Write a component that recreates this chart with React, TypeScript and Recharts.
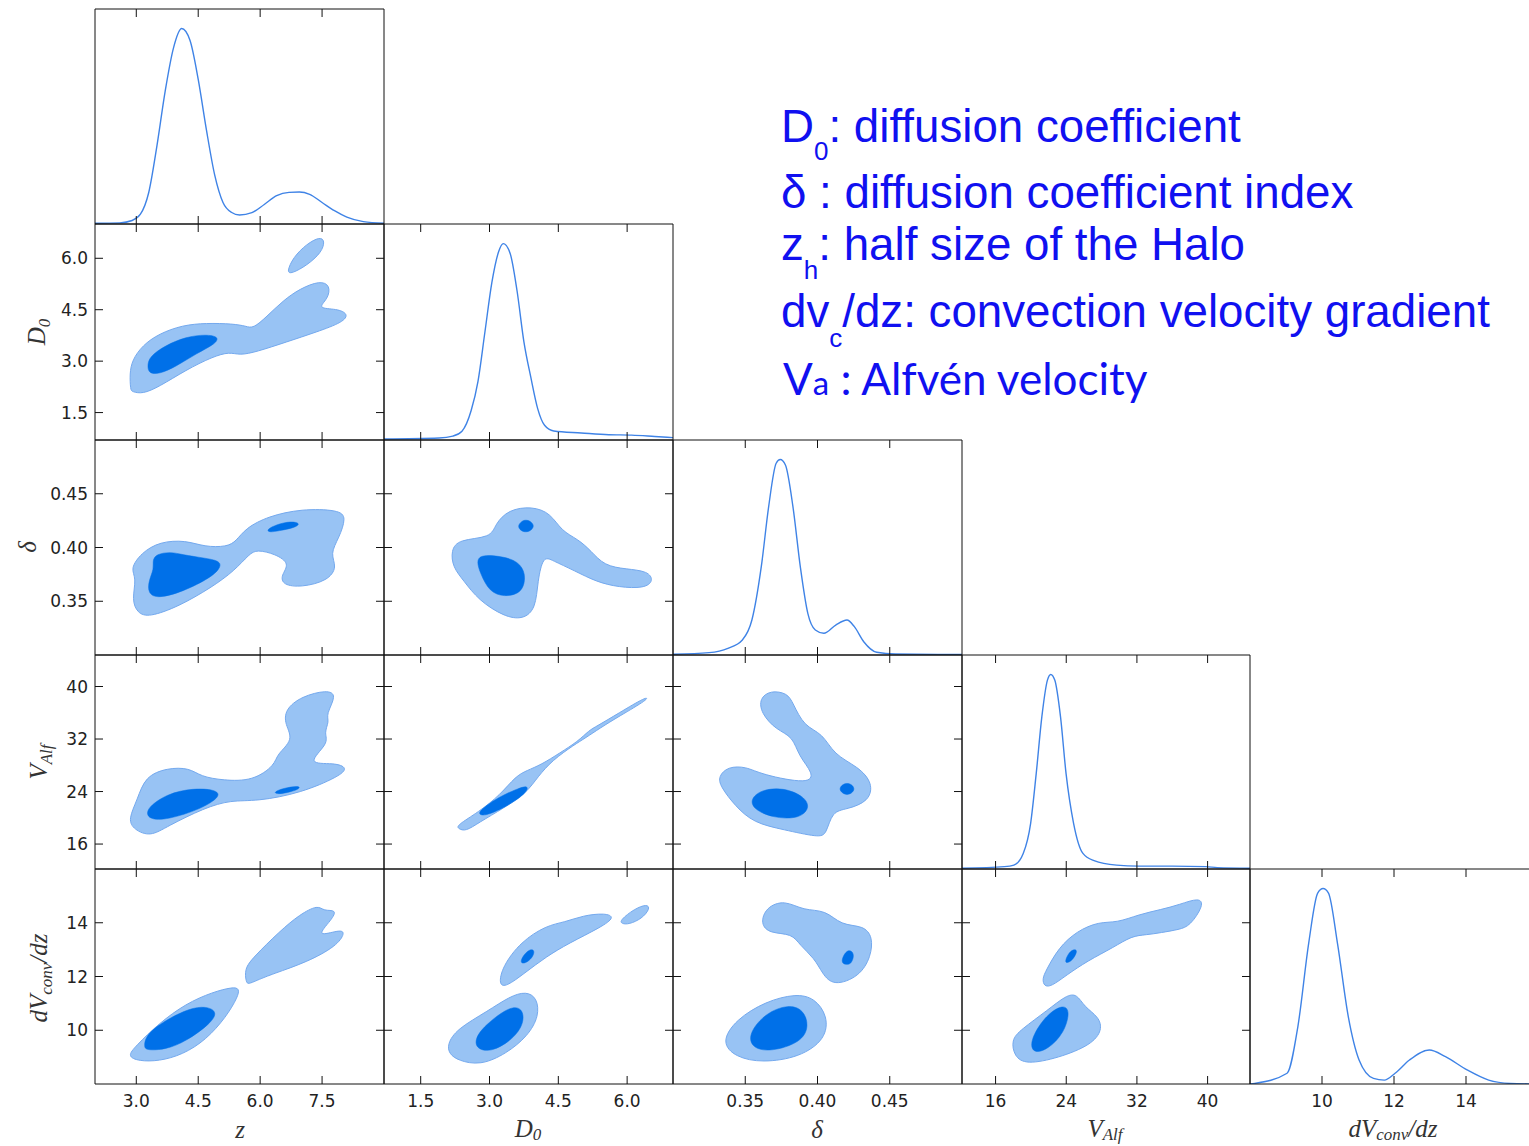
import React from 'react'
import { ScatterChart, Scatter, LineChart, Line, XAxis, YAxis } from 'recharts'

type Pt = [number, number]

// axis ticks and ranges, one per parameter: z, D0, delta, V_Alf, dV_conv/dz
const Z_TICKS = [3.0, 4.5, 6.0, 7.5]
const D0_TICKS = [1.5, 3.0, 4.5, 6.0]
const DELTA_TICKS = [0.35, 0.4, 0.45]
const VALF_TICKS = [16, 24, 32, 40]
const DV_TICKS = [10, 12, 14]

const Z_RANGE = [2, 9]
const D0_RANGE = [0.7, 7.0]
const DELTA_RANGE = [0.3, 0.5]
const VALF_RANGE = [12.2, 44.8]
const DV_RANGE = [8, 16]

// 1-D marginals (value, normalised density)
const Z_DENS: Pt[] = [[2.0, 0.004], [2.6, 0.006], [2.9, 0.018], [3.1, 0.05], [3.3, 0.16], [3.5, 0.4], [3.7, 0.68], [3.9, 0.9], [4.1, 1.0], [4.3, 0.94], [4.5, 0.74], [4.7, 0.48], [4.9, 0.25], [5.1, 0.11], [5.3, 0.06], [5.5, 0.046], [5.8, 0.058], [6.1, 0.1], [6.4, 0.145], [6.7, 0.162], [6.95, 0.164], [7.2, 0.152], [7.5, 0.11], [7.8, 0.068], [8.1, 0.035], [8.5, 0.012], [9.0, 0.004]]
const D0_DENS: Pt[] = [[0.7, 0.005], [1.9, 0.01], [2.2, 0.02], [2.4, 0.045], [2.6, 0.15], [2.75, 0.3], [2.9, 0.55], [3.05, 0.8], [3.2, 0.96], [3.3, 1.0], [3.45, 0.95], [3.6, 0.76], [3.75, 0.5], [3.9, 0.32], [4.05, 0.16], [4.2, 0.075], [4.4, 0.046], [5.0, 0.036], [5.6, 0.027], [6.1, 0.025], [6.6, 0.018], [7.0, 0.012]]
const DELTA_DENS: Pt[] = [[0.3, 0.004], [0.325, 0.012], [0.338, 0.034], [0.348, 0.077], [0.3546, 0.179], [0.3611, 0.452], [0.3662, 0.759], [0.3714, 0.981], [0.3742, 1.0], [0.3778, 0.972], [0.383, 0.759], [0.3881, 0.452], [0.3933, 0.213], [0.3985, 0.128], [0.4044, 0.111], [0.4126, 0.153], [0.4204, 0.179], [0.4255, 0.145], [0.432, 0.068], [0.441, 0.014], [0.454, 0.005], [0.5, 0.003]]
const VALF_DENS: Pt[] = [[12.2, 0.004], [17.0, 0.012], [18.07, 0.02], [19.13, 0.08], [19.97, 0.235], [20.6, 0.49], [21.24, 0.783], [21.87, 0.971], [22.25, 1.0], [22.7, 0.971], [23.35, 0.783], [23.98, 0.49], [24.83, 0.235], [25.89, 0.08], [27.15, 0.043], [29.69, 0.02], [32.2, 0.015], [36.0, 0.015], [39.8, 0.012], [41.1, 0.007], [44.8, 0.004]]
const DV_DENS: Pt[] = [[8.0, 0.0], [8.13, 0.003], [9.03, 0.055], [9.33, 0.294], [9.63, 0.72], [9.88, 0.977], [10.03, 1.0], [10.18, 0.977], [10.43, 0.72], [10.73, 0.345], [11.03, 0.123], [11.43, 0.029], [11.73, 0.02], [12.03, 0.055], [12.43, 0.123], [12.98, 0.174], [13.43, 0.14], [14.03, 0.072], [14.63, 0.02], [15.23, 0.003], [16.0, 0.0]]

// 2-D contours: outlines of the 68% (dark) and 95% (light) regions
const Z_D0_LIGHT_A: Pt[] = [[2.86, 2.16], [2.84, 2.64], [2.9, 3.03], [3.15, 3.46], [3.55, 3.8], [4.12, 4.05], [4.69, 4.11], [5.34, 4.09], [5.66, 4.02], [5.83, 3.95], [6.15, 4.29], [6.56, 4.77], [6.96, 5.11], [7.45, 5.35], [7.7, 5.21], [7.65, 4.82], [7.37, 4.53], [7.86, 4.53], [8.14, 4.38], [8.02, 4.14], [7.37, 3.85], [6.64, 3.56], [5.91, 3.27], [5.5, 3.17], [5.26, 3.27], [4.85, 3.13], [4.2, 2.74], [3.55, 2.25], [3.15, 2.04], [2.9, 2.11]]
const Z_D0_LIGHT_B: Pt[] = [[6.64, 5.59], [6.8, 6.03], [7.13, 6.42], [7.45, 6.63], [7.57, 6.51], [7.49, 6.17], [7.13, 5.79], [6.76, 5.55]]
const Z_D0_DARK: Pt[] = [[3.27, 2.84], [3.31, 3.13], [3.71, 3.46], [4.2, 3.71], [4.69, 3.78], [5.0, 3.71], [4.93, 3.51], [4.45, 3.22], [3.96, 2.84], [3.55, 2.62], [3.31, 2.64]]

const Z_DELTA_LIGHT: Pt[] = [[2.85, 0.38], [3.12, 0.395], [3.57, 0.4055], [4.2, 0.4067], [4.65, 0.4006], [5.2, 0.4006], [5.42, 0.406], [5.65, 0.418], [6.19, 0.429], [7.0, 0.436], [7.91, 0.435], [8.09, 0.428], [7.91, 0.409], [7.69, 0.394], [7.87, 0.382], [7.64, 0.369], [7.0, 0.363], [6.55, 0.365], [6.5, 0.374], [6.73, 0.385], [6.37, 0.394], [5.92, 0.398], [5.74, 0.394], [5.38, 0.3785], [4.83, 0.363], [4.02, 0.345], [3.3, 0.335], [3.03, 0.339], [2.89, 0.351], [3.01, 0.372]]
const Z_DELTA_DARK_A: Pt[] = [[3.48, 0.3939], [3.84, 0.396], [4.11, 0.3933], [4.65, 0.3902], [5.01, 0.3877], [5.06, 0.3822], [4.83, 0.3724], [4.11, 0.3586], [3.52, 0.3525], [3.28, 0.3571], [3.3, 0.3693], [3.43, 0.38], [3.39, 0.3877]]
const Z_DELTA_DARK_B: Pt[] = [[6.15, 0.4165], [6.4, 0.4215], [6.75, 0.4245], [6.98, 0.4225], [6.85, 0.4185], [6.45, 0.4155], [6.22, 0.414]]

const D0_DELTA_LIGHT: Pt[] = [[2.16, 0.397], [2.32, 0.4077], [3.04, 0.409], [3.12, 0.4215], [3.41, 0.4353], [3.93, 0.4383], [4.33, 0.432], [4.57, 0.4153], [4.93, 0.4077], [5.21, 0.397], [5.5, 0.383], [5.98, 0.38], [6.46, 0.378], [6.58, 0.369], [6.38, 0.362], [5.82, 0.363], [5.33, 0.368], [4.85, 0.3785], [4.37, 0.388], [4.17, 0.3923], [4.05, 0.369], [4.01, 0.343], [3.73, 0.333], [3.32, 0.3356], [2.76, 0.351], [2.44, 0.369], [2.2, 0.3816]]
const D0_DELTA_DARK_A: Pt[] = [[2.68, 0.3923], [3.08, 0.393], [3.57, 0.389], [3.77, 0.3785], [3.77, 0.366], [3.65, 0.357], [3.32, 0.354], [3.0, 0.3586], [2.8, 0.3755]]
const D0_DELTA_DARK_B: Pt[] = [[3.61, 0.42], [3.7, 0.4245], [3.79, 0.4258], [3.9, 0.4245], [3.98, 0.42], [3.9, 0.4155], [3.79, 0.4142], [3.68, 0.4155]]

const Z_VALF_LIGHT: Pt[] = [[2.8, 19.75], [3.03, 22.8], [3.21, 26.3], [3.75, 27.6], [4.29, 27.6], [4.56, 26.3], [5.1, 25.7], [5.83, 25.6], [6.37, 28.1], [6.39, 29.6], [6.82, 31.9], [6.6, 34.2], [6.6, 36.5], [7.0, 38.5], [7.63, 39.5], [7.86, 38.7], [7.59, 35.7], [7.68, 34.7], [7.54, 32.9], [7.68, 31.4], [7.09, 28.1], [7.81, 28.4], [8.13, 27.6], [7.91, 26.3], [7.0, 23.8], [5.92, 22.5], [5.29, 22.7], [4.65, 21.5], [3.75, 18.7], [3.34, 17.1], [2.94, 18.2]]
const Z_VALF_DARK_A: Pt[] = [[3.21, 21.3], [3.75, 23.7], [4.38, 24.5], [4.92, 24.3], [5.06, 23.3], [4.56, 21.3], [3.75, 19.7], [3.3, 19.7]]
const Z_VALF_DARK_B: Pt[] = [[6.33, 23.9], [6.55, 24.5], [6.95, 24.9], [6.97, 24.4], [6.65, 23.8], [6.4, 23.6]]

const D0_VALF_LIGHT: Pt[] = [[2.28, 18.84], [2.76, 20.86], [3.24, 23.54], [3.57, 26.33], [3.81, 27.19], [4.13, 28.1], [4.53, 29.87], [4.93, 31.65], [5.17, 33.32], [5.33, 33.92], [5.82, 35.95], [6.42, 38.48], [6.48, 38.13], [5.82, 35.44], [5.41, 33.67], [5.09, 32.15], [4.85, 31.14], [4.37, 28.76], [4.05, 26.23], [3.81, 23.8], [3.32, 21.52], [2.76, 19.24], [2.48, 17.92], [2.32, 18.33]]
const D0_VALF_DARK: Pt[] = [[2.8, 21.16], [3.16, 23.04], [3.65, 24.56], [3.85, 24.91], [3.81, 23.8], [3.41, 21.87], [2.92, 20.25], [2.76, 20.51]]

const DELTA_VALF_LIGHT: Pt[] = [[0.3314, 26.3], [0.3379, 27.8], [0.3508, 27.8], [0.361, 26.6], [0.3946, 25.1], [0.3972, 26.8], [0.3869, 29.4], [0.383, 32.4], [0.3714, 33.4], [0.361, 35.9], [0.3598, 38.2], [0.3675, 39.4], [0.3791, 39.0], [0.383, 37.5], [0.3907, 33.9], [0.4036, 32.9], [0.4113, 29.6], [0.4281, 27.8], [0.4384, 25.3], [0.4358, 22.5], [0.4204, 21.3], [0.41, 21.0], [0.4062, 17.5], [0.401, 17.0], [0.3765, 18.2], [0.3559, 19.2], [0.343, 21.8], [0.3327, 24.8]]
const DELTA_VALF_DARK_A: Pt[] = [[0.3534, 22.8], [0.361, 24.3], [0.3765, 24.6], [0.3907, 23.3], [0.3951, 21.5], [0.3869, 19.8], [0.3688, 20.0], [0.3559, 21.3]]
const DELTA_VALF_DARK_B: Pt[] = [[0.4147, 24.4], [0.4175, 25.1], [0.4204, 25.3], [0.4235, 25.1], [0.426, 24.4], [0.4235, 23.7], [0.4204, 23.5], [0.4175, 23.7]]

const Z_DV_LIGHT_A: Pt[] = [[2.78, 9.03], [2.98, 9.4], [3.55, 10.26], [4.2, 10.99], [4.85, 11.42], [5.34, 11.61], [5.5, 11.55], [5.46, 11.24], [5.18, 10.5], [4.69, 9.64], [4.12, 9.09], [3.55, 8.85], [3.06, 8.85]]
const Z_DV_LIGHT_B: Pt[] = [[5.66, 11.79], [5.62, 12.28], [5.83, 12.71], [6.48, 13.69], [6.96, 14.31], [7.41, 14.67], [7.53, 14.43], [7.86, 14.49], [7.74, 14.12], [7.33, 13.45], [7.94, 13.75], [8.06, 13.63], [7.86, 13.14], [7.13, 12.53], [6.31, 12.1], [5.91, 11.85], [5.71, 11.71]]
const Z_DV_DARK: Pt[] = [[3.19, 9.4], [3.23, 9.83], [3.71, 10.38], [4.28, 10.81], [4.69, 10.9], [4.97, 10.69], [4.81, 10.26], [4.2, 9.58], [3.71, 9.28], [3.23, 9.25]]

const D0_DV_LIGHT_A: Pt[] = [[2.08, 9.48], [2.28, 10.04], [2.96, 10.71], [3.44, 11.26], [3.8, 11.45], [4.04, 11.2], [4.08, 10.53], [3.84, 9.79], [3.36, 9.12], [2.8, 8.69], [2.32, 8.87], [2.12, 9.12]]
const D0_DV_LIGHT_B: Pt[] = [[3.2, 11.69], [3.28, 12.37], [3.68, 13.29], [4.24, 13.9], [4.64, 14.02], [5.04, 14.27], [5.52, 14.36], [5.74, 14.21], [5.44, 13.84], [4.72, 13.23], [4.24, 12.74], [3.76, 12.12], [3.36, 11.61]]
const D0_DV_LIGHT_C: Pt[] = [[5.84, 14.09], [6.16, 14.52], [6.44, 14.7], [6.5, 14.52], [6.32, 14.15], [6.04, 13.94], [5.88, 13.96]]
const D0_DV_DARK_A: Pt[] = [[2.68, 9.67], [2.88, 10.16], [3.44, 10.9], [3.72, 10.83], [3.76, 10.28], [3.52, 9.67], [3.04, 9.18], [2.72, 9.3]]
const D0_DV_DARK_B: Pt[] = [[3.66, 12.5], [3.74, 12.8], [3.88, 13.02], [3.99, 12.98], [3.94, 12.7], [3.78, 12.48]]

const DELTA_DV_LIGHT_A: Pt[] = [[0.3604, 13.96], [0.3643, 14.58], [0.3773, 14.85], [0.3903, 14.45], [0.4058, 14.48], [0.4162, 13.9], [0.4318, 13.9], [0.4383, 13.47], [0.437, 12.74], [0.4292, 12.0], [0.411, 11.63], [0.4032, 12.12], [0.398, 12.67], [0.3877, 13.17], [0.3825, 13.6], [0.3669, 13.6]]
const DELTA_DV_LIGHT_B: Pt[] = [[0.3331, 9.55], [0.3435, 10.4], [0.3643, 11.08], [0.3851, 11.36], [0.398, 11.2], [0.4071, 10.53], [0.4058, 9.67], [0.3877, 8.99], [0.3617, 8.79], [0.3435, 8.99]]
const DELTA_DV_DARK_A: Pt[] = [[0.3526, 9.91], [0.3643, 10.65], [0.3799, 10.96], [0.3903, 10.77], [0.3942, 10.16], [0.389, 9.55], [0.3669, 9.18], [0.3539, 9.36]]
const DELTA_DV_DARK_B: Pt[] = [[0.4162, 12.49], [0.418, 12.8], [0.4209, 12.98], [0.424, 12.95], [0.4253, 12.76], [0.4235, 12.5], [0.4209, 12.43]]

const VALF_DV_LIGHT_A: Pt[] = [[21.29, 11.91], [21.7, 12.22], [23.15, 13.08], [25.21, 13.69], [27.69, 14.04], [29.76, 14.0], [32.24, 14.31], [34.72, 14.49], [36.79, 14.67], [39.06, 14.94], [39.6, 14.67], [38.02, 13.88], [36.79, 13.75], [34.72, 13.63], [33.07, 13.55], [31.41, 13.51], [29.35, 13.08], [26.45, 12.59], [23.98, 12.04], [22.32, 11.63], [21.5, 11.63]]
const VALF_DV_LIGHT_B: Pt[] = [[17.78, 9.64], [18.81, 10.01], [21.91, 10.75], [23.98, 11.3], [25.21, 11.36], [26.04, 10.87], [27.69, 10.5], [28.1, 10.01], [26.87, 9.46], [23.15, 8.97], [19.43, 8.72], [18.11, 9.03]]
const VALF_DV_DARK_A: Pt[] = [[19.84, 9.58], [21.5, 10.5], [23.56, 10.97], [24.47, 10.75], [23.77, 9.89], [21.91, 9.28], [20.26, 9.13]]
const VALF_DV_DARK_B: Pt[] = [[23.77, 12.49], [24.2, 12.85], [24.8, 13.02], [25.3, 12.98], [24.9, 12.7], [24.39, 12.53]]

const AXES = [
  { ticks: Z_TICKS, domain: Z_RANGE, digits: 1 },
  { ticks: D0_TICKS, domain: D0_RANGE, digits: 1 },
  { ticks: DELTA_TICKS, domain: DELTA_RANGE, digits: 2 },
  { ticks: VALF_TICKS, domain: VALF_RANGE, digits: 0 },
  { ticks: DV_TICKS, domain: DV_RANGE, digits: 0 },
]

const DIAG = [Z_DENS, D0_DENS, DELTA_DENS, VALF_DENS, DV_DENS]

const PANELS = [
  { row: 1, col: 0, light: [Z_D0_LIGHT_A, Z_D0_LIGHT_B], dark: [Z_D0_DARK] },
  { row: 2, col: 0, light: [Z_DELTA_LIGHT], dark: [Z_DELTA_DARK_A, Z_DELTA_DARK_B] },
  { row: 2, col: 1, light: [D0_DELTA_LIGHT], dark: [D0_DELTA_DARK_A, D0_DELTA_DARK_B] },
  { row: 3, col: 0, light: [Z_VALF_LIGHT], dark: [Z_VALF_DARK_A, Z_VALF_DARK_B] },
  { row: 3, col: 1, light: [D0_VALF_LIGHT], dark: [D0_VALF_DARK] },
  { row: 3, col: 2, light: [DELTA_VALF_LIGHT], dark: [DELTA_VALF_DARK_A, DELTA_VALF_DARK_B] },
  { row: 4, col: 0, light: [Z_DV_LIGHT_A, Z_DV_LIGHT_B], dark: [Z_DV_DARK] },
  { row: 4, col: 1, light: [D0_DV_LIGHT_A, D0_DV_LIGHT_B, D0_DV_LIGHT_C], dark: [D0_DV_DARK_A, D0_DV_DARK_B] },
  { row: 4, col: 2, light: [DELTA_DV_LIGHT_A, DELTA_DV_LIGHT_B], dark: [DELTA_DV_DARK_A, DELTA_DV_DARK_B] },
  { row: 4, col: 3, light: [VALF_DV_LIGHT_A, VALF_DV_LIGHT_B], dark: [VALF_DV_DARK_A, VALF_DV_DARK_B] },
]

// grid geometry (page pixels)
const COL_EDGES = [95, 384, 673, 962, 1250, 1538]
const ROW_EDGES = [9, 224, 440, 655, 869, 1084]
const PAD_L = 60
const PAD_R = 10
const PAD_T = 10
const PAD_B = 50
const TICK_LEN = 8

const INK = '#111'
const LIGHT = '#98c3f4'
const LIGHT_EDGE = '#74a9ee'
const DARK = '#0070e8'
const LINE = '#3f83e6'
const BLUE = '#1010f0'

const toXY = (pts: Pt[]) => pts.map(([x, y]) => ({ x, y }))
const noDot = () => null
const axisStroke = { stroke: INK, strokeWidth: 1 }
const tickFont = { fontFamily: 'DejaVu Sans', fontSize: 17, fill: '#222' }

// inward matplotlib-style ticks on both opposite sides, with an optional label outside the frame
function bottomTick(show: boolean, digits: number, span: number) {
  return (props: any) => {
    const { x, y, payload } = props
    return (
      <g>
        <line x1={x} x2={x} y1={y} y2={y - TICK_LEN} stroke={INK} />
        <line x1={x} x2={x} y1={y - span} y2={y - span + TICK_LEN} stroke={INK} />
        {show && <text x={x} y={y + 23} textAnchor="middle" {...tickFont}>{Number(payload.value).toFixed(digits)}</text>}
      </g>
    )
  }
}

function leftTick(show: boolean, digits: number, span: number) {
  return (props: any) => {
    const { x, y, payload } = props
    return (
      <g>
        <line x1={x} x2={x + TICK_LEN} y1={y} y2={y} stroke={INK} />
        <line x1={x + span} x2={x + span - TICK_LEN} y1={y} y2={y} stroke={INK} />
        {show && <text x={x - 7} y={y + 6} textAnchor="end" {...tickFont}>{Number(payload.value).toFixed(digits)}</text>}
      </g>
    )
  }
}

function frameAxes(col: number, row: number, marginal: boolean) {
  const xa = AXES[col]
  const ya = AXES[row]
  const w = COL_EDGES[col + 1] - COL_EDGES[col]
  const h = ROW_EDGES[row + 1] - ROW_EDGES[row]
  const yDomain = marginal ? [0, 1.1] : ya.domain
  const common = { type: 'number' as const, interval: 0 as const, allowDataOverflow: true, axisLine: axisStroke, tickLine: false, tickSize: 0, tickMargin: 0 }
  return [
    <XAxis key="xb" xAxisId="b" orientation="bottom" dataKey="x" domain={xa.domain} ticks={xa.ticks} height={PAD_B} tick={bottomTick(row === 4, xa.digits, h)} {...common} />,
    <XAxis key="xt" xAxisId="t" orientation="top" dataKey="x" domain={xa.domain} ticks={xa.ticks} height={PAD_T} tick={false} {...common} />,
    marginal ? (
      <YAxis key="yl" yAxisId="l" dataKey="y" domain={yDomain} ticks={[0.5]} width={PAD_L} tick={false} {...common} />
    ) : (
      <YAxis key="yl" yAxisId="l" dataKey="y" domain={yDomain} ticks={ya.ticks} width={PAD_L} tick={leftTick(col === 0, ya.digits, w)} {...common} />
    ),
    <YAxis key="yr" yAxisId="r" orientation="right" dataKey="y" domain={yDomain} ticks={marginal ? [0.5] : ya.ticks} width={PAD_R} tick={false} {...common} />,
  ]
}

function box(col: number, row: number) {
  const w = COL_EDGES[col + 1] - COL_EDGES[col]
  const h = ROW_EDGES[row + 1] - ROW_EDGES[row]
  return {
    width: w + PAD_L + PAD_R,
    height: h + PAD_T + PAD_B,
    style: { position: 'absolute' as const, left: COL_EDGES[col] - PAD_L, top: ROW_EDGES[row] - PAD_T },
  }
}

const MARGIN = { top: 0, right: 0, bottom: 0, left: 0 }

function Marginal({ idx }: { idx: number }) {
  const b = box(idx, idx)
  return (
    <div style={b.style}>
      <LineChart width={b.width} height={b.height} margin={MARGIN} data={toXY(DIAG[idx])}>
        {frameAxes(idx, idx, true)}
        <Line xAxisId="b" yAxisId="l" type="monotone" dataKey="y" stroke={LINE} strokeWidth={1.4} dot={false} isAnimationActive={false} />
      </LineChart>
    </div>
  )
}

function Contours({ row, col, light, dark }: { row: number; col: number; light: Pt[][]; dark: Pt[][] }) {
  const b = box(col, row)
  return (
    <div style={b.style}>
      <ScatterChart width={b.width} height={b.height} margin={MARGIN}>
        {frameAxes(col, row, false)}
        {light.map((poly, i) => (
          <Scatter key={`l${i}`} xAxisId="b" yAxisId="l" data={toXY(poly)} line={{ fill: LIGHT, stroke: LIGHT_EDGE, strokeWidth: 1 }} lineJointType="basisClosed" shape={noDot} isAnimationActive={false} />
        ))}
        {dark.map((poly, i) => (
          <Scatter key={`d${i}`} xAxisId="b" yAxisId="l" data={toXY(poly)} line={{ fill: DARK, stroke: DARK, strokeWidth: 0.5 }} lineJointType="basisClosed" shape={noDot} isAnimationActive={false} />
        ))}
      </ScatterChart>
    </div>
  )
}

function Titles() {
  const math = { fontFamily: 'Liberation Serif, DejaVu Serif, serif', fontStyle: 'italic' as const, fontSize: 25, fill: '#333' }
  const note = { fontFamily: 'Liberation Sans, Arial, sans-serif', fontSize: 45.7, fill: BLUE }
  return (
    <svg width={1529} height={1146} style={{ position: 'absolute', left: 0, top: 0, pointerEvents: 'none' }}>
      <text x={240} y={1138} textAnchor="middle" {...math}>z</text>
      <text x={528} y={1137} textAnchor="middle" {...math}>D<tspan fontSize={17} dy={3}>0</tspan></text>
      <text x={817} y={1138} textAnchor="middle" {...math}>δ</text>
      <text x={1105} y={1137} textAnchor="middle" {...math}>V<tspan fontSize={17} dy={3}>Alf</tspan></text>
      <text x={1393} y={1137} textAnchor="middle" {...math}>dV<tspan fontSize={17} dy={3}>conv</tspan><tspan dy={-3}>/dz</tspan></text>

      <text transform="translate(45,332) rotate(-90)" textAnchor="middle" {...math}>D<tspan fontSize={17} dy={5}>0</tspan></text>
      <text transform="translate(36,547) rotate(-90)" textAnchor="middle" {...math}>δ</text>
      <text transform="translate(47,762) rotate(-90)" textAnchor="middle" {...math}>V<tspan fontSize={17} dy={5}>Alf</tspan></text>
      <text transform="translate(47,978) rotate(-90)" textAnchor="middle" {...math}>dV<tspan fontSize={17} dy={5}>conv</tspan><tspan dy={-5}>/dz</tspan></text>

      <text x={781} y={142} {...note}>D<tspan fontSize={26} dy={18}>0</tspan><tspan dy={-18}>: diffusion coefficient</tspan></text>
      <text x={781} y={208} {...note}>δ : diffusion coefficient index</text>
      <text x={781} y={260} {...note}>z<tspan fontSize={26} dy={19}>h</tspan><tspan dy={-19}>: half size of the Halo</tspan></text>
      <text x={781} y={327} {...note}>dv<tspan fontSize={26} dy={20}>c</tspan><tspan dy={-20}>/dz: convection velocity gradient</tspan></text>
      <text x={783} y={395} fontFamily="Lato, Open Sans, sans-serif" fontSize={44} fill={BLUE}>V<tspan fontSize={33}>a</tspan> : Alfvén velocity</text>
    </svg>
  )
}

export default function App() {
  return (
    <div style={{ position: 'absolute', left: 0, top: 0, width: 1529, height: 1146, overflow: 'hidden', background: '#fff' }}>
      {[0, 1, 2, 3, 4].map((i) => (
        <Marginal key={`m${i}`} idx={i} />
      ))}
      {PANELS.map((p) => (
        <Contours key={`${p.row}-${p.col}`} {...p} />
      ))}
      <Titles />
    </div>
  )
}
